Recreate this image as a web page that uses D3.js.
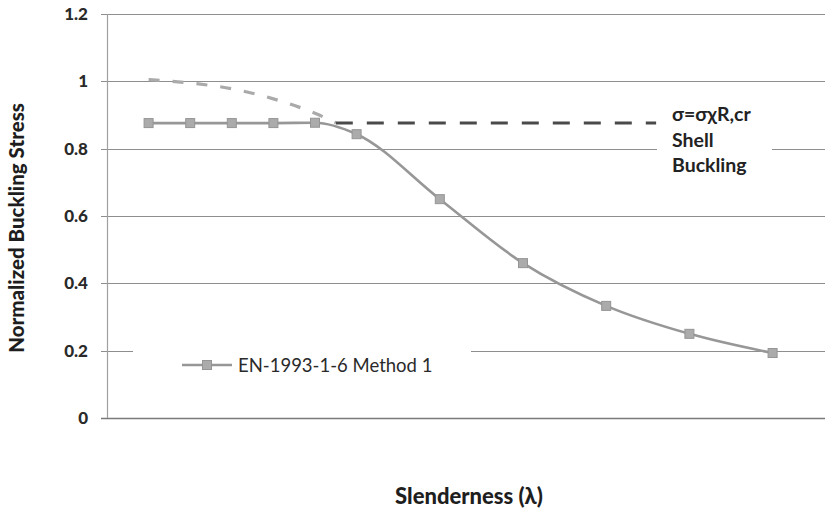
<!DOCTYPE html>
<html><head><meta charset="utf-8">
<script src="https://cdn.jsdelivr.net/npm/d3@7"></script>
<style>body{margin:0;background:#fff}svg{display:block}</style>
</head><body>
<script>
// ---- data ----
const lambdaVals = [0.1,0.2,0.3,0.4,0.5,0.6,0.8,1.0,1.2,1.4,1.6];
const method1Vals = [0.876,0.876,0.876,0.876,0.877,0.843,0.65,0.46,0.333,0.25,0.193];
const curveLambda = [0.1,0.2,0.3,0.4,0.5,0.55];
const curveVals = [1.005,0.995,0.978,0.948,0.905,0.877];
const plateauLambda = [0.55,1.32];
const plateauVals = [0.876,0.876];
const yTickVals = [0,0.2,0.4,0.6,0.8,1.0,1.2];
const yTickLabels = ["0","0.2","0.4","0.6","0.8","1","1.2"];
const legendLabel = "EN-1993-1-6 Method 1";
const sideLegend = ["σ=σχR,cr","Shell","Buckling"];
const xTitle = "Slenderness (λ)";
const yTitle = "Normalized Buckling Stress";

const W=825,H=513;
const svg=d3.select("body").append("svg").attr("width",W).attr("height",H);
const x=d3.scaleLinear().domain([0,1.6]).range([107,772.6]);
const y=d3.scaleLinear().domain([0,1.2]).range([418,14]);
const font="Lato, 'Open Sans', sans-serif";

// gridlines
const grid=svg.append("g");
grid.selectAll("line").data(yTickVals).join("line")
  .attr("x1",101).attr("x2",W)
  .attr("y1",d=>Math.round(y(d))+0.5).attr("y2",d=>Math.round(y(d))+0.5)
  .attr("stroke",d=>d===0?"#7a7a7a":"#8e8e8e").attr("stroke-width",d=>d===0?1.6:1.1);
// left axis
svg.append("line").attr("x1",107.5).attr("x2",107.5).attr("y1",y(1.2)).attr("y2",y(0))
  .attr("stroke","#a0a0a0").attr("stroke-width",1.2);
// tick labels
svg.append("g").selectAll("text").data(yTickVals).join("text")
  .attr("x",88).attr("y",d=>y(d)).attr("dy","0.36em").attr("text-anchor","end")
  .attr("font-family",font).attr("font-weight","900").attr("font-size",17).attr("fill","#2a2a2a")
  .text((d,i)=>yTickLabels[i]);

// dashed curve (light)
svg.append("path").datum(curveLambda.map((l,i)=>[l,curveVals[i]]))
  .attr("d",d3.line().x(d=>x(d[0])).y(d=>y(d[1])).curve(d3.curveMonotoneX))
  .attr("fill","none").attr("stroke","#aaaaaa").attr("stroke-width",3.2).attr("stroke-dasharray","11,13");

// method 1 line
const pts=lambdaVals.map((l,i)=>[l,method1Vals[i]]);
svg.append("path").datum(pts)
  .attr("d",d3.line().x(d=>x(d[0])).y(d=>y(d[1])).curve(d3.curveMonotoneX))
  .attr("fill","none").attr("stroke","#979797").attr("stroke-width",2.6);

// plateau dashed (dark)
svg.append("path").datum(plateauLambda.map((l,i)=>[l,plateauVals[i]]))
  .attr("d",d3.line().x(d=>x(d[0])).y(d=>y(d[1])))
  .attr("fill","none").attr("stroke","#4a4a4a").attr("stroke-width",3).attr("stroke-dasharray","17,14");

// markers
svg.append("g").selectAll("rect").data(pts).join("rect")
  .attr("x",d=>x(d[0])-4.5).attr("y",d=>y(d[1])-4.5).attr("width",9).attr("height",9)
  .attr("fill","#ababab").attr("stroke","#959595").attr("stroke-width",1);

// right legend
svg.append("rect").attr("x",657).attr("y",100).attr("width",115).attr("height",82).attr("fill","#fff");
svg.append("g").selectAll("text").data(sideLegend).join("text")
  .attr("x",672).attr("y",(d,i)=>121+i*25.5)
  .attr("font-family",font).attr("font-weight","bold").attr("font-size",19.5).attr("fill","#222")
  .text(d=>d);

// bottom legend
svg.append("rect").attr("x",133).attr("y",340).attr("width",338).attr("height",26).attr("fill","#fff");
svg.append("line").attr("x1",182).attr("x2",232).attr("y1",365).attr("y2",365)
  .attr("stroke","#979797").attr("stroke-width",2.6);
svg.append("rect").attr("x",207-4.5).attr("y",365-4.5).attr("width",9).attr("height",9)
  .attr("fill","#ababab").attr("stroke","#959595");
svg.append("text").attr("x",238).attr("y",365).attr("dy","0.36em")
  .attr("font-family",font).attr("font-size",18.5).attr("fill","#2a2a2a").text(legendLabel);

// axis titles
svg.append("text").attr("x",469).attr("y",504).attr("text-anchor","middle")
  .attr("font-family",font).attr("font-weight","900").attr("font-size",22).attr("fill","#1e1e1e").text(xTitle);
svg.append("text").attr("transform","translate(24,228) rotate(-90)").attr("text-anchor","middle")
  .attr("font-family",font).attr("font-weight","900").attr("font-size",20.5).attr("fill","#1e1e1e").text(yTitle);
</script>
</body></html>
